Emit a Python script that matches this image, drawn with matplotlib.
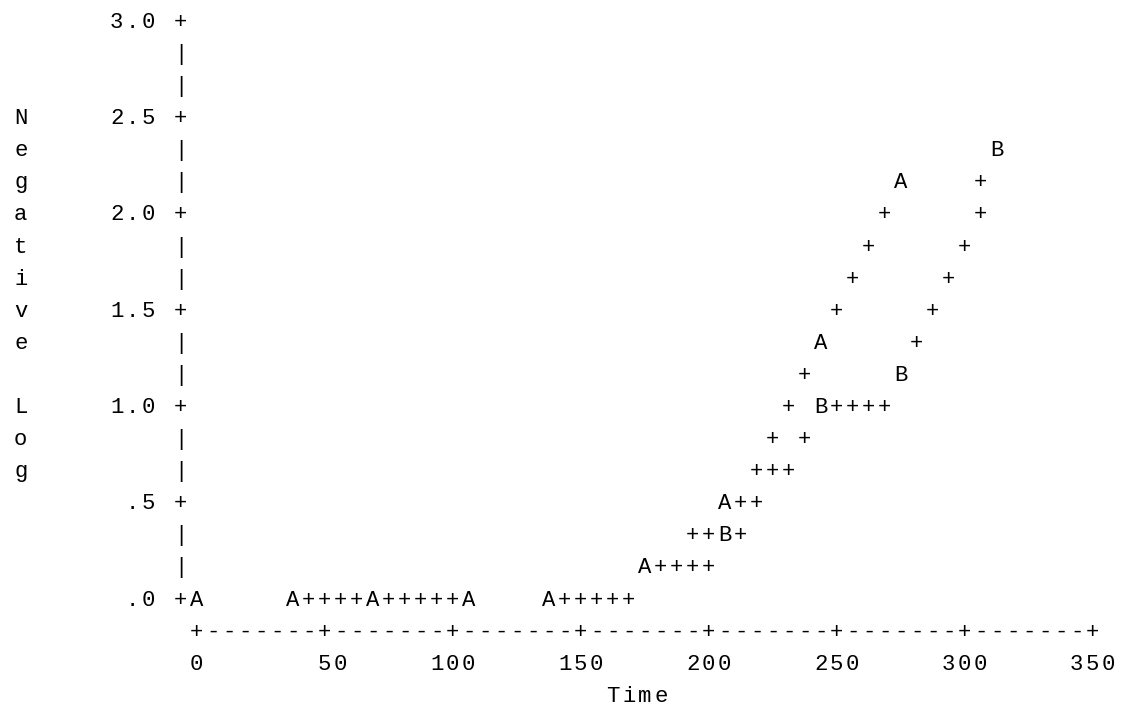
import numpy as np
import matplotlib
matplotlib.use('Agg')
import matplotlib.pyplot as plt
from matplotlib.transforms import offset_copy

# Series A and B (plot symbols) and the '+' trace, time vs negative log
a_time = [0.0, 34.5, 69.0, 103.5, 138.0, 172.5, 207.0, 241.5, 276.0]
a_nlog = [0.00, 0.00, 0.00, 0.00, 0.00, 0.17, 0.50, 1.33, 2.17]
b_time = [207.0, 241.5, 276.0, 310.5]
b_nlog = [0.33, 1.00, 1.17, 2.33]

p_time = [43.75, 50.0, 56.25, 62.5, 75.0, 81.25, 87.5, 93.75, 100.0,
          143.75, 150.0, 156.25, 162.5, 168.75,
          181.25, 187.5, 193.75, 200.0,
          193.75, 200.0, 212.5,
          212.5, 218.75,
          218.75, 225.0, 231.25,
          225.0, 237.5,
          231.25, 250.0, 256.25, 262.5, 268.75,
          237.5,
          281.25,
          250.0, 287.5,
          256.25, 293.75,
          262.5, 300.0,
          268.75, 306.25,
          306.25]
p_nlog = [0.00, 0.00, 0.00, 0.00, 0.00, 0.00, 0.00, 0.00, 0.00,
          0.00, 0.00, 0.00, 0.00, 0.00,
          0.17, 0.17, 0.17, 0.17,
          0.33, 0.33, 0.33,
          0.50, 0.50,
          0.67, 0.67, 0.67,
          0.83, 0.83,
          1.00, 1.00, 1.00, 1.00, 1.00,
          1.17,
          1.33,
          1.50, 1.50,
          1.67, 1.67,
          1.83, 1.83,
          2.00, 2.00,
          2.17]

x_ticks = [0, 50, 100, 150, 200, 250, 300, 350]
y_ticks = [0.0, 0.5, 1.0, 1.5, 2.0, 2.5, 3.0]
y_tick_labels = ['.0', '.5', '1.0', '1.5', '2.0', '2.5', '3.0']
x_label = 'Time'
y_label = 'Negative Log'

# line-printer grid: one column = 6.25 time units, one row = 1/6 log unit
dx = 6.25
dy = 1.0 / 6.0
font = 'Liberation Mono'
fs = 16

fig = plt.figure(figsize=(11.22, 7.08), dpi=100)
ax = fig.add_axes([0, 0, 1, 1])
ax.set_xlim(-76.84, 361.45)
ax.set_ylim(-0.5696, 3.1065)
ax.axis('off')

trans = offset_copy(ax.transData, fig=fig, x=0, y=-7.3, units='dots')


def put(col, row, s):
    for i, ch in enumerate(s):
        if ch == ' ':
            continue
        ax.text((col + i) * dx, row * dy, ch, ha='center', va='baseline',
                fontsize=fs, family=font, color='k', transform=trans)


# vertical axis
n_rows = int(round(y_ticks[-1] / dy))
for r in range(n_rows + 1):
    put(-1, r, '+' if r % 3 == 0 else '|')
for val, lab in zip(y_ticks, y_tick_labels):
    r = int(round(val / dy))
    put(-2 - len(lab), r, lab)

# horizontal axis
n_cols = int(round(x_ticks[-1] / dx))
put(0, -1, ''.join('+' if c % 8 == 0 else '-' for c in range(n_cols + 1)))
for t in x_ticks:
    lab = str(t)
    c = int(round(t / dx))
    put(c - (len(lab) - 1) // 2, -2, lab)
put(n_cols // 2 - len(x_label) // 2, -3, x_label)

# vertical axis label, one letter per row
for i, ch in enumerate(y_label):
    put(-11, 15 - i, ch)

# marks snapped to the character grid
for t, v in zip(p_time, p_nlog):
    put(int(round(t / dx)), int(round(v / dy)), '+')
for t, v in zip(a_time, a_nlog):
    put(int(round(t / dx)), int(round(v / dy)), 'A')
for t, v in zip(b_time, b_nlog):
    put(int(round(t / dx)), int(round(v / dy)), 'B')

fig.savefig('out.png', dpi=100, facecolor='white')
